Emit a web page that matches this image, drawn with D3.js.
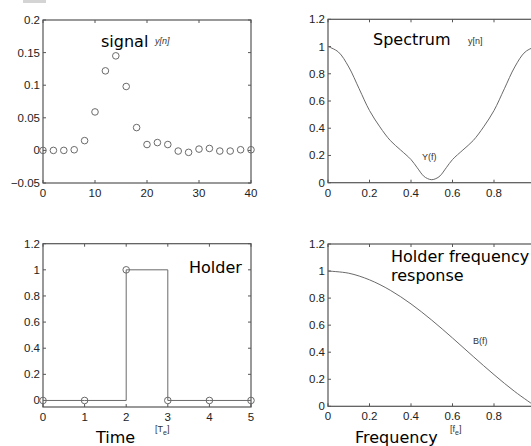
<!DOCTYPE html>
<html><head><meta charset="utf-8">
<script src="https://cdn.jsdelivr.net/npm/d3@7"></script>
<style>body{margin:0;background:#fff}svg{display:block}</style>
</head><body>
<svg id="c" width="531" height="446"></svg>
<script>
// ---- data ----
const signalN = [0,2,4,6,8,10,12,14,16,18,20,22,24,26,28,30,32,34,36,38,40];
const signalY = [0,0,0,0.001,0.015,0.059,0.122,0.145,0.098,0.035,0.009,0.012,0.009,-0.001,-0.003,0.002,0.003,-0.001,-0.001,0.001,0.001];
const spectrumF = [0,0.05,0.1,0.15,0.2,0.25,0.3,0.35,0.4,0.43,0.46,0.48,0.5,0.52,0.54,0.57,0.6,0.65,0.7,0.75,0.8,0.85,0.9,0.95,1.0];
const spectrumY = [1.0,0.96,0.85,0.69,0.53,0.41,0.31,0.24,0.17,0.11,0.05,0.03,0.022,0.03,0.05,0.11,0.17,0.24,0.31,0.41,0.53,0.69,0.85,0.96,1.0];
const holderT = [0,1,2,3,4,5];
const holderY = [0,0,1,0,0,0];
const responseF = [0,0.1,0.2,0.3,0.4,0.5,0.6,0.7,0.8,0.9,1.0];
const responseY = [1.0,0.984,0.935,0.858,0.757,0.637,0.505,0.368,0.234,0.109,0.0];
const signalXTicks = [0,10,20,30,40];
const signalYTicks = [-0.05,0,0.05,0.1,0.15,0.2];
const signalYLabels = ["\u22120.05","0","0.05","0.1","0.15","0.2"];
const freqXTicks = [0,0.2,0.4,0.6,0.8,1];
const freqXLabels = ["0","0.2","0.4","0.6","0.8",""];
const unitYTicks = [0,0.2,0.4,0.6,0.8,1,1.2];
const unitYLabels = ["0","0.2","0.4","0.6","0.8","1","1.2"];
const holderXTicks = [0,1,2,3,4,5];

const svg = d3.select("#c");
const boxColor = "#555", lineColor = "#6a6a6a", txt = "#222";
const tickFont = "Liberation Sans, Arial, sans-serif";
const titleFont = "DejaVu Sans, sans-serif";

svg.append("rect").attr("x",23).attr("y",0).attr("width",23).attr("height",3).attr("fill","#d4d4d4");

function panel(o){
  const x = d3.scaleLinear().domain(o.xd).range([o.x0,o.x1]);
  const y = d3.scaleLinear().domain(o.yd).range([o.y1,o.y0]);
  const g = svg.append("g");
  const tl = 3;
  o.xt.forEach(v=>{
    g.append("line").attr("x1",x(v)).attr("x2",x(v)).attr("y1",o.y1).attr("y2",o.y1-tl).attr("stroke",boxColor);
    g.append("line").attr("x1",x(v)).attr("x2",x(v)).attr("y1",o.y0).attr("y2",o.y0+tl).attr("stroke",boxColor);
  });
  o.yt.forEach(v=>{
    g.append("line").attr("x1",o.x0).attr("x2",o.x0+tl).attr("y1",y(v)).attr("y2",y(v)).attr("stroke",boxColor);
    g.append("line").attr("x1",o.x1).attr("x2",o.x1-tl).attr("y1",y(v)).attr("y2",y(v)).attr("stroke",boxColor);
  });
  g.append("rect").attr("x",o.x0).attr("y",o.y0).attr("width",o.x1-o.x0).attr("height",o.y1-o.y0)
    .attr("fill","none").attr("stroke",boxColor).attr("stroke-width",1.2);
  o.xt.forEach((v,i)=>{
    if(!o.xl[i]) return;
    g.append("text").attr("x",x(v)).attr("y",o.y1+14).attr("text-anchor","middle")
      .attr("font-family",tickFont).attr("font-size",11.5).attr("fill",txt).text(o.xl[i]);
  });
  o.yt.forEach((v,i)=>{
    g.append("text").attr("x",o.x0-3).attr("y",y(v)+4).attr("text-anchor","end")
      .attr("font-family",tickFont).attr("font-size",11.5).attr("fill",txt).text(o.yl[i]);
  });
  return {x,y,g};
}

// Top-left: signal
const p1 = panel({x0:43,x1:251,y0:20,y1:183,xd:[0,40],yd:[-0.05,0.2],xt:signalXTicks,xl:signalXTicks.map(String),yt:signalYTicks,yl:signalYLabels});
p1.g.selectAll("circle.s").data(signalN).enter().append("circle")
  .attr("cx",(d)=>p1.x(d)).attr("cy",(d,i)=>p1.y(signalY[i])).attr("r",3.3)
  .attr("fill","none").attr("stroke",lineColor).attr("stroke-width",1);

// Top-right: spectrum
const p2 = panel({x0:328,x1:535.5,y0:19.3,y1:182.7,xd:[0,1],yd:[0,1.2],xt:freqXTicks,xl:freqXLabels,yt:unitYTicks,yl:unitYLabels});
p2.g.append("path").datum(spectrumF).attr("fill","none").attr("stroke",lineColor).attr("stroke-width",1)
  .attr("d",d3.line().x(d=>p2.x(d)).y((d,i)=>p2.y(spectrumY[i])).curve(d3.curveCatmullRom));

// Bottom-left: holder
const p3 = panel({x0:43,x1:251,y0:243.7,y1:407,xd:[0,5],yd:[-0.05,1.2],xt:holderXTicks,xl:holderXTicks.map(String),yt:unitYTicks,yl:unitYLabels});
p3.g.append("path").datum(holderT).attr("fill","none").attr("stroke",lineColor).attr("stroke-width",1)
  .attr("d",d3.line().x(d=>p3.x(d)).y((d,i)=>p3.y(holderY[i])).curve(d3.curveStepAfter));
p3.g.selectAll("circle.h").data(holderT).enter().append("circle")
  .attr("cx",d=>p3.x(d)).attr("cy",(d,i)=>p3.y(holderY[i])).attr("r",3.3)
  .attr("fill","none").attr("stroke",lineColor).attr("stroke-width",1);

// Bottom-right: holder frequency response
const p4 = panel({x0:328,x1:535.5,y0:244,y1:406.3,xd:[0,1],yd:[0,1.2],xt:freqXTicks,xl:freqXLabels,yt:unitYTicks,yl:unitYLabels});
p4.g.append("path").datum(responseF).attr("fill","none").attr("stroke",lineColor).attr("stroke-width",1)
  .attr("d",d3.line().x(d=>p4.x(d)).y((d,i)=>p4.y(responseY[i])).curve(d3.curveCatmullRom));

// Annotations
function t(x,y,s,size,opts={}){
  const e = svg.append("text").attr("x",x).attr("y",y).attr("font-family",opts.font||titleFont)
    .attr("font-size",size).attr("fill",opts.fill||"#000").text(s);
  if(opts.italic) e.attr("font-style","italic");
  return e;
}
t(101,47,"signal",16);
t(155,44,"y[n]",9,{font:tickFont,italic:true,fill:"#333"});
t(373,45,"Spectrum",16);
t(468,44,"y[n]",9,{font:tickFont,fill:"#333"});
t(422,160,"Y(f)",9,{font:tickFont,fill:"#333"});
t(189,273,"Holder",16);
t(391,262,"Holder frequency",16);
t(391,281,"response",16);
t(473,344,"B(f)",9,{font:tickFont,fill:"#333"});
t(96,443,"Time",16);
t(355,443,"Frequency",16);
const u1 = t(155,432,"[T",9,{font:tickFont,fill:"#333"});
u1.append("tspan").attr("dy",3).attr("font-size",7).text("e");
u1.append("tspan").attr("dy",-3).text("]");
const u2 = t(450,432,"[f",9,{font:tickFont,fill:"#333"});
u2.append("tspan").attr("dy",3).attr("font-size",7).text("e");
u2.append("tspan").attr("dy",-3).text("]");
</script>
</body></html>
